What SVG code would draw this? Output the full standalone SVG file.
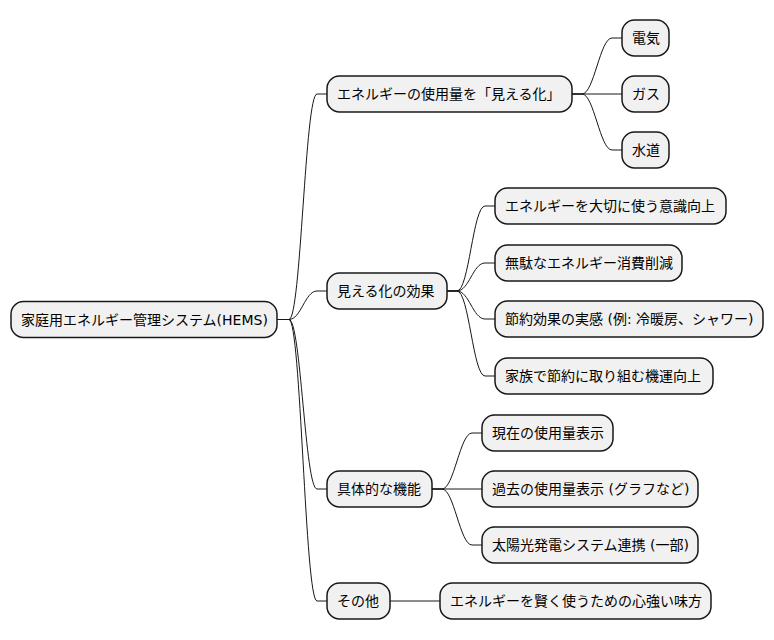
<svg xmlns="http://www.w3.org/2000/svg" width="774" height="640" viewBox="0 0 774 640">
<style>
.n rect{fill:#F1F1F1;stroke:#181818;stroke-width:1.5}
.n text{font-family:"DejaVu Sans","Noto Sans CJK JP",sans-serif;font-size:14px;fill:#000}
.c path{fill:none;stroke:#181818;stroke-width:1}
</style>
<rect width="774" height="640" fill="#FFFFFF"/>
<g class="c" id="connectors">
<path d="M277 319.5 H289 C301 319.5 305 94 317 94 H327"/>
<path d="M277 319.5 H289 C301 319.5 305 291 317 291 H327"/>
<path d="M277 319.5 H289 C301 319.5 305 489 317 489 H327"/>
<path d="M277 319.5 H289 C301 319.5 305 601 317 601 H327"/>
<path d="M572 94 H582 C594 94 600 38 612 38 H622"/>
<path d="M572 94 H622"/>
<path d="M572 94 H582 C594 94 600 150 612 150 H622"/>
<path d="M447 291 H457 C469 291 473 206 485 206 H495"/>
<path d="M447 291 H457 C469 291 473 263 485 263 H495"/>
<path d="M447 291 H457 C469 291 473 319 485 319 H495"/>
<path d="M447 291 H457 C469 291 473 376 485 376 H495"/>
<path d="M432 489 H442 C454 489 460 433 472 433 H482"/>
<path d="M432 489 H482"/>
<path d="M432 489 H442 C454 489 460 545 472 545 H482"/>
<path d="M390 601 H440"/>
</g>
<g class="n" id="root"><rect x="11" y="301.5" width="266" height="36" rx="12.5"/><text x="21" y="324.5">家庭用エネルギー管理システム(HEMS)</text></g>
<g class="n" id="n1"><rect x="327" y="76" width="245" height="36" rx="12.5"/><text x="337" y="99">エネルギーの使用量を「見える化」</text></g>
<g class="n" id="n1a"><rect x="622" y="20" width="47" height="36" rx="12.5"/><text x="632" y="43">電気</text></g>
<g class="n" id="n1b"><rect x="622" y="76" width="47" height="36" rx="12.5"/><text x="632" y="99">ガス</text></g>
<g class="n" id="n1c"><rect x="622" y="132" width="47" height="36" rx="12.5"/><text x="632" y="155">水道</text></g>
<g class="n" id="n2"><rect x="327" y="273" width="120" height="36" rx="12.5"/><text x="337" y="296">見える化の効果</text></g>
<g class="n" id="n2a"><rect x="495" y="188" width="231" height="36" rx="12.5"/><text x="505" y="211">エネルギーを大切に使う意識向上</text></g>
<g class="n" id="n2b"><rect x="495" y="245" width="187" height="36" rx="12.5"/><text x="505" y="268">無駄なエネルギー消費削減</text></g>
<g class="n" id="n2c"><rect x="495" y="301" width="268" height="36" rx="12.5"/><text x="505" y="324">節約効果の実感 (例: 冷暖房、シャワー)</text></g>
<g class="n" id="n2d"><rect x="495" y="358" width="218" height="36" rx="12.5"/><text x="505" y="381">家族で節約に取り組む機運向上</text></g>
<g class="n" id="n3"><rect x="327" y="471" width="105" height="36" rx="12.5"/><text x="337" y="494">具体的な機能</text></g>
<g class="n" id="n3a"><rect x="482" y="415" width="131" height="36" rx="12.5"/><text x="492" y="438">現在の使用量表示</text></g>
<g class="n" id="n3b"><rect x="482" y="471" width="216" height="36" rx="12.5"/><text x="492" y="494">過去の使用量表示 (グラフなど)</text></g>
<g class="n" id="n3c"><rect x="482" y="527" width="216" height="36" rx="12.5"/><text x="492" y="550">太陽光発電システム連携 (一部)</text></g>
<g class="n" id="n4"><rect x="327" y="583" width="63" height="36" rx="12.5"/><text x="337" y="606">その他</text></g>
<g class="n" id="n4a"><rect x="440" y="583" width="271" height="36" rx="12.5"/><text x="450" y="606">エネルギーを賢く使うための心強い味方</text></g>
</svg>
